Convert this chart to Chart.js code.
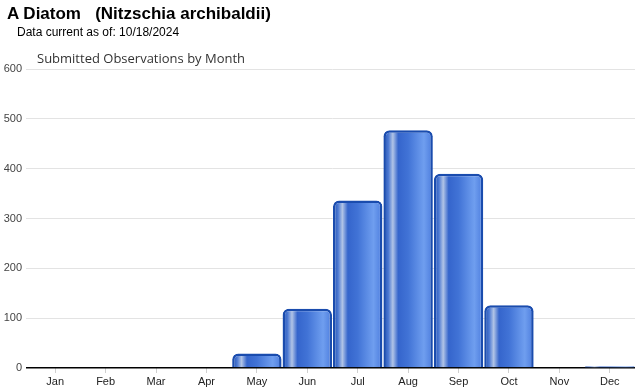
<!DOCTYPE html>
<html>
<head>
<meta charset="utf-8">
<script src="https://cdn.jsdelivr.net/npm/chart.js@4"></script>
<style>
  body { margin: 0; background: #fff; font-family: "Liberation Sans", Arial, sans-serif; }
  #wrap { position: relative; width: 640px; height: 390px; }
  #obsChart { position: absolute; left: 0; top: 0; }
  .title { position: absolute; left: 7px; top: 4px; font-size: 17px; font-weight: bold; color: #000; white-space: pre; }
  .sub { position: absolute; left: 17px; top: 25px; font-size: 12px; color: #000; }
  .chartTitle { position: absolute; left: 37px; top: 49px; font-family: "Open Sans", sans-serif; font-size: 13px; color: #333; }
</style>
</head>
<body>
<div id="wrap">
  <canvas id="obsChart" width="640" height="390"></canvas>
  <div class="title">A Diatom   (Nitzschia archibaldii)</div>
  <div class="sub">Data current as of: 10/18/2024</div>
  <div class="chartTitle">Submitted Observations by Month</div>
</div>
<script>
const months = ['Jan', 'Feb', 'Mar', 'Apr', 'May', 'Jun', 'Jul', 'Aug', 'Sep', 'Oct', 'Nov', 'Dec'];
const observations = [0, 0, 0, 0, 29, 119, 336, 477, 390, 126, 0, 3];
const yTicks = [0, 100, 200, 300, 400, 500, 600];

const barPct = 0.98;

// glossy horizontal gradient, made per bar
function barFill(context) {
    const chart = context.chart;
    const xScale = chart.scales.x;
    if (!chart.chartArea || !xScale || context.dataIndex === undefined) return '#3a6ad0';
    const cx = xScale.getPixelForValue(context.dataIndex);
    const w = (xScale.width / months.length) * barPct;
    const g = chart.ctx.createLinearGradient(cx - w / 2, 0, cx + w / 2, 0);
    g.addColorStop(0, '#1f4fb0');
    g.addColorStop(0.1, '#4b78d2');
    g.addColorStop(0.19, '#b1c4e6');
    g.addColorStop(0.3, '#3565cc');
    g.addColorStop(0.5, '#4173d6');
    g.addColorStop(0.82, '#6f9eef');
    g.addColorStop(0.95, '#5585e2');
    g.addColorStop(1, '#2553b5');
    return g;
}

function barBorder(context) {
    const v = context.raw;
    if (!v || v < 10) return 0;
    return { top: 2.5, left: 2.5, right: 2.5, bottom: 0 };
}

const ctx = document.getElementById('obsChart');

new Chart(ctx, {
    type: 'bar',
    data: {
        labels: months,
        datasets: [
            {
                label: 'Observations',
                data: observations,
                backgroundColor: barFill,
                borderColor: '#1a4cae',
                borderWidth: barBorder,
                borderRadius: { topLeft: 6, topRight: 6, bottomLeft: 0, bottomRight: 0 },
                borderSkipped: 'bottom',
                barPercentage: barPct,
                categoryPercentage: 1
            }
        ]
    },
    options: {
        responsive: false,
        animation: false,
        layout: { padding: { top: 69, right: 5, left: 0, bottom: 0 } },
        plugins: {
            legend: { display: false },
            tooltip: { enabled: false }
        },
        scales: {
            x: {
                grid: { drawOnChartArea: false, offset: false, tickLength: 5, color: '#d0d0d0' },
                border: { display: false },
                ticks: { color: '#222', font: { family: 'Liberation Sans', size: 11 }, padding: 2 },
                afterFit: (scale) => { scale.height = 22; }
            },
            y: {
                min: 0,
                max: 600,
                afterBuildTicks: (scale) => { scale.ticks = yTicks.map(v => ({ value: v })); },
                grid: {
                    color: (c) => c.tick && c.tick.value === 0 ? '#000' : '#e3e3e3',
                    lineWidth: (c) => c.tick && c.tick.value === 0 ? 1.5 : 1,
                    tickLength: 4
                },
                border: { display: false },
                ticks: { color: '#444', font: { family: 'Liberation Sans', size: 11 }, padding: 4 },
                afterFit: (scale) => { scale.width = 30; }
            }
        }
    }
});
</script>
</body>
</html>
